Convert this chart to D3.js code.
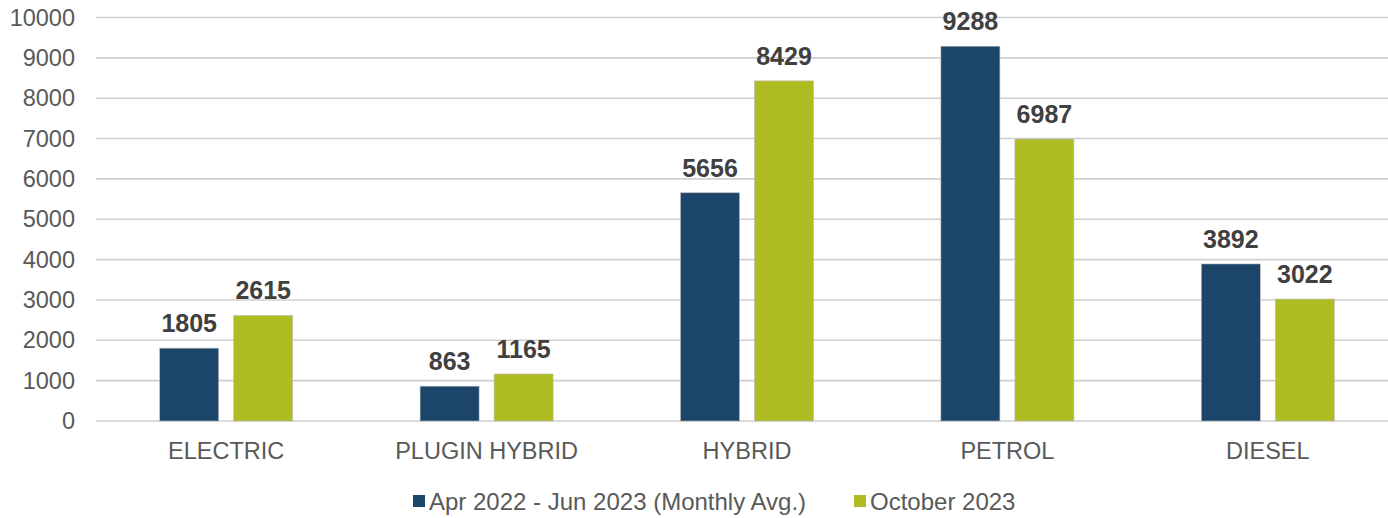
<!DOCTYPE html>
<html><head><meta charset="utf-8">
<script src="https://cdn.jsdelivr.net/npm/d3@7"></script>
<style>body{margin:0;background:#fff}svg{display:block}</style>
</head><body>
<svg id="c" width="1388" height="518"></svg>
<script>
const categories = ["ELECTRIC","PLUGIN HYBRID","HYBRID","PETROL","DIESEL"];
const seriesNames = ["Apr 2022 - Jun 2023 (Monthly Avg.)","October 2023"];
const avgValues = [1805, 863, 5656, 9288, 3892];
const octValues = [2615, 1165, 8429, 6987, 3022];
const yTicks = [0,1000,2000,3000,4000,5000,6000,7000,8000,9000,10000];
const colors = ["#1b4569","#afbd22"];

const svg = d3.select("#c");
const font = "'Liberation Sans', Arial, sans-serif";
const x = d3.scaleBand().domain(categories).range([96, 1398]).paddingInner(0).paddingOuter(0);
const y = d3.scaleLinear().domain([0, 10000]).range([421, 17.5]);
const sub = d3.scaleBand().domain([0,1]).range([-66.5, 66.5]).paddingInner(15/74).paddingOuter(0);

// gridlines
svg.append("g").selectAll("line").data(yTicks).join("line")
  .attr("x1", 96).attr("x2", 1388)
  .attr("y1", d => y(d)).attr("y2", d => y(d))
  .attr("stroke", "#cfcfcf").attr("stroke-width", 1.6);

// y axis labels
const yAxis = d3.axisLeft(y).tickValues(yTicks).tickSize(0).tickPadding(0).tickFormat(d3.format("d"));
const ya = svg.append("g").attr("transform", "translate(75,0)").call(yAxis);
ya.select(".domain").remove();
ya.selectAll("text").attr("font-family", font).attr("font-size", 23.5).attr("fill", "#595959");

// x axis labels
const xAxis = d3.axisBottom(x).tickSize(0).tickPadding(0);
const xa = svg.append("g").attr("transform", "translate(0,442)").call(xAxis);
xa.select(".domain").remove();
xa.selectAll("text").attr("font-family", font).attr("font-size", 23.5).attr("fill", "#595959").attr("dy", "0.72em");

const series = [avgValues, octValues];
series.forEach((vals, si) => {
  const g = svg.append("g");
  g.selectAll("rect").data(categories).join("rect")
    .attr("x", (c) => x(c) + x.bandwidth()/2 + sub(si))
    .attr("width", sub.bandwidth())
    .attr("y", (c, i) => y(vals[i]))
    .attr("height", (c, i) => y(0) - y(vals[i]))
    .attr("fill", colors[si])
    .attr("stroke", "#b9b9b9").attr("stroke-width", 0.6);
  g.selectAll("text").data(categories).join("text")
    .attr("x", (c) => x(c) + x.bandwidth()/2 + sub(si) + sub.bandwidth()/2)
    .attr("y", (c, i) => y(vals[i]) - 16)
    .attr("text-anchor", "middle")
    .attr("font-family", font).attr("font-size", 25).attr("font-weight", "bold")
    .attr("fill", "#404040")
    .text((c, i) => vals[i]);
});

// legend
const legendX = [413, 854];
const lg = svg.append("g");
seriesNames.forEach((n, i) => {
  lg.append("rect").attr("x", legendX[i]).attr("y", 495).attr("width", 12).attr("height", 12).attr("fill", colors[i]);
  lg.append("text").attr("x", legendX[i] + 16).attr("y", 501).attr("dy", "0.36em")
    .attr("font-family", font).attr("font-size", 24).attr("fill", "#595959").text(n);
});
</script>
</body></html>
